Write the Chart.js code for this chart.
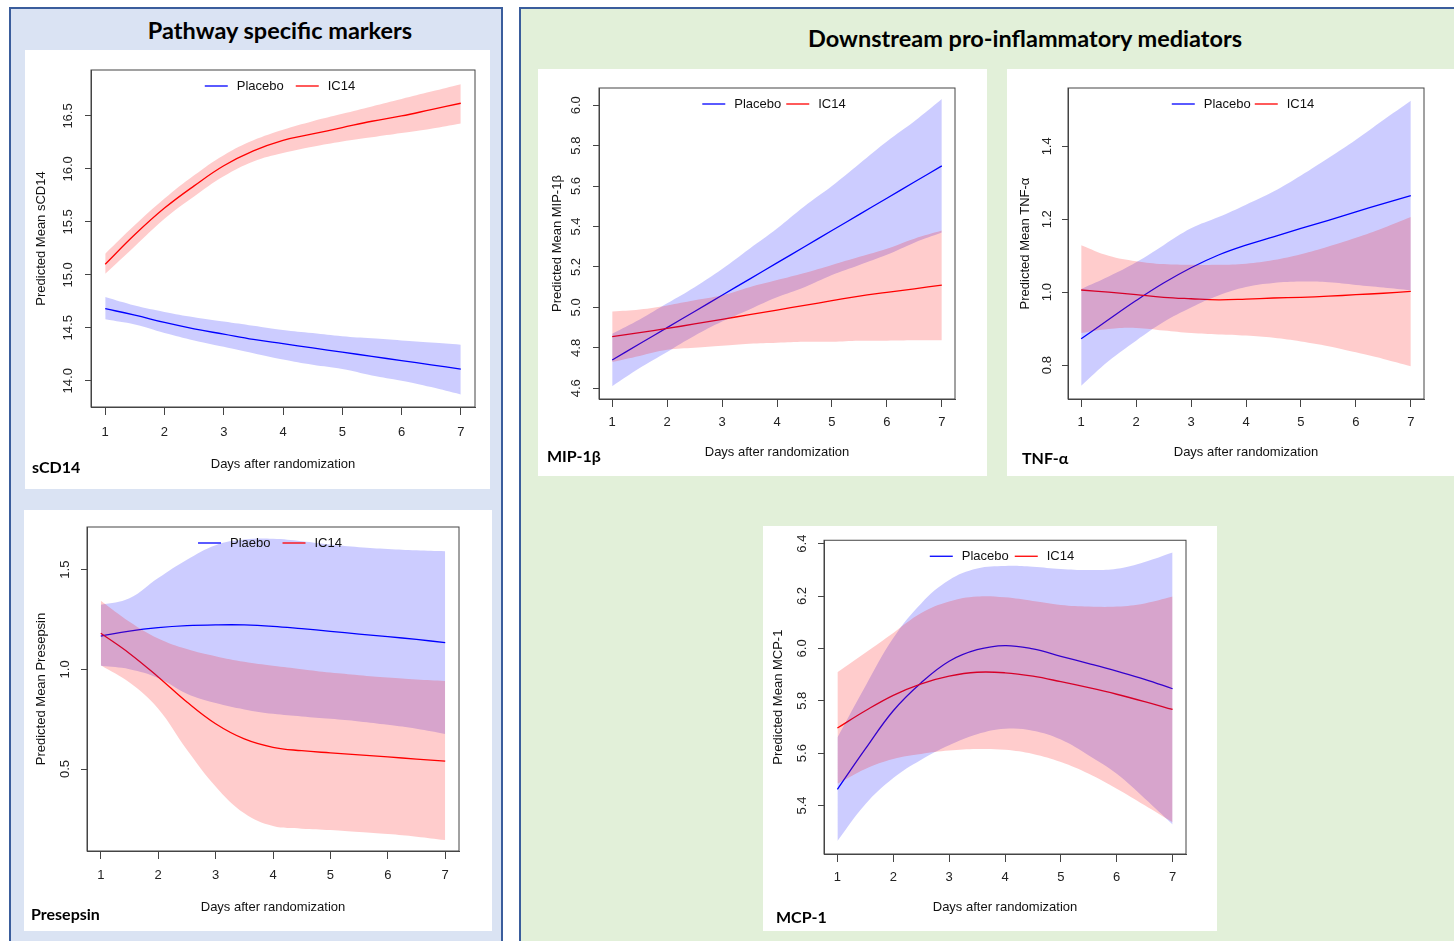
<!DOCTYPE html>
<html>
<head>
<meta charset="utf-8">
<script src="https://cdn.jsdelivr.net/npm/chart.js@4.4.1/dist/chart.umd.min.js"></script>
<style>
  body { margin: 0; width: 1454px; height: 941px; overflow: hidden; background: #fff; position: relative; }
  .panel { position: absolute; box-sizing: border-box; border: 2px solid #3a5d9c; }
  #left { left: 9px; top: 7px; width: 494px; height: 960px; background: #dae3f3; }
  #right { left: 519px; top: 7px; width: 980px; height: 960px; background: #e2f0d9; }
  .head { position: absolute; font: bold 23.5px Lato, sans-serif; color: #000; white-space: nowrap; transform: translate(-50%, -50%); }
  .box { position: absolute; background: #fff; }
  .tag { position: absolute; font: bold 16px Lato, sans-serif; color: #000; white-space: nowrap; transform: translateY(-50%); }
</style>
</head>
<body>
<div class="panel" id="left"></div>
<div class="panel" id="right"></div>
<div class="head" style="left:280px; top:30px">Pathway specific markers</div>
<div class="head" style="left:1025px; top:38px">Downstream pro-inflammatory mediators</div>

<div class="box" style="left:25px; top:50px; width:465px; height:439px"><canvas id="cSCD14" width="465" height="439"></canvas></div>
<div class="box" style="left:538px; top:69px; width:449px; height:407px"><canvas id="cMIP" width="449" height="407"></canvas></div>
<div class="box" style="left:1007px; top:69px; width:447px; height:407px"><canvas id="cTNF" width="447" height="407"></canvas></div>
<div class="box" style="left:24px; top:510px; width:468px; height:421px"><canvas id="cPRE" width="468" height="421"></canvas></div>
<div class="box" style="left:763px; top:526px; width:454px; height:405px"><canvas id="cMCP" width="454" height="405"></canvas></div>

<div class="tag" style="left:32px; top:466px">sCD14</div>
<div class="tag" style="left:547px; top:455px">MIP-1β</div>
<div class="tag" style="left:1022px; top:457px">TNF-α</div>
<div class="tag" style="left:31px; top:913px">Presepsin</div>
<div class="tag" style="left:776px; top:916px">MCP-1</div>

<script>
// days after randomization (half-day steps)
const days = [1, 1.5, 2, 2.5, 3, 3.5, 4, 4.5, 5, 5.5, 6, 6.5, 7];
const dayTicks = [1, 2, 3, 4, 5, 6, 7];
const groupNames = ['Placebo', 'IC14'];
const presepsinNames = ['Plaebo', 'IC14'];
const xTitle = 'Days after randomization';

// sCD14
const scd14Ticks = [14.0, 14.5, 15.0, 15.5, 16.0, 16.5];
const scd14Placebo = [14.68, 14.62, 14.55, 14.49, 14.44, 14.39, 14.35, 14.31, 14.27, 14.23, 14.19, 14.15, 14.11];
const scd14PlaceboHi = [14.79, 14.71, 14.65, 14.60, 14.56, 14.52, 14.48, 14.45, 14.42, 14.40, 14.38, 14.36, 14.34];
const scd14PlaceboLo = [14.58, 14.53, 14.45, 14.38, 14.32, 14.26, 14.20, 14.15, 14.11, 14.05, 14.00, 13.94, 13.87];
const scd14Ic14 = [15.10, 15.38, 15.63, 15.84, 16.03, 16.17, 16.27, 16.33, 16.39, 16.45, 16.50, 16.56, 16.62];
const scd14Ic14Hi = [15.20, 15.47, 15.72, 15.94, 16.13, 16.27, 16.37, 16.45, 16.52, 16.59, 16.66, 16.73, 16.80];
const scd14Ic14Lo = [15.01, 15.27, 15.53, 15.74, 15.93, 16.07, 16.15, 16.21, 16.26, 16.30, 16.34, 16.38, 16.43];

// MIP-1β
const mipTicks = [4.6, 4.8, 5.0, 5.2, 5.4, 5.6, 5.8, 6.0];
const mipPlacebo = [4.74, 4.82, 4.90, 4.98, 5.06, 5.14, 5.22, 5.30, 5.38, 5.46, 5.54, 5.62, 5.70];
const mipPlaceboHi = [4.87, 4.94, 5.02, 5.10, 5.19, 5.29, 5.39, 5.50, 5.60, 5.71, 5.82, 5.92, 6.03];
const mipPlaceboLo = [4.61, 4.70, 4.78, 4.86, 4.93, 4.99, 5.05, 5.10, 5.16, 5.21, 5.26, 5.32, 5.37];
const mipIc14 = [4.855, 4.875, 4.896, 4.918, 4.941, 4.964, 4.987, 5.010, 5.033, 5.056, 5.074, 5.092, 5.110];
const mipIc14Hi = [4.98, 4.99, 5.01, 5.035, 5.06, 5.10, 5.135, 5.17, 5.21, 5.25, 5.29, 5.34, 5.38];
const mipIc14Lo = [4.73, 4.76, 4.79, 4.80, 4.81, 4.82, 4.825, 4.83, 4.83, 4.835, 4.835, 4.837, 4.837];

// TNF-α
const tnfTicks = [0.8, 1.0, 1.2, 1.4];
const tnfPlacebo = [0.872, 0.925, 0.977, 1.025, 1.067, 1.102, 1.129, 1.152, 1.175, 1.197, 1.220, 1.243, 1.265];
const tnfPlaceboHi = [1.009, 1.043, 1.082, 1.129, 1.175, 1.206, 1.240, 1.276, 1.320, 1.368, 1.418, 1.472, 1.525];
const tnfPlaceboLo = [0.743, 0.811, 0.867, 0.918, 0.958, 0.991, 1.014, 1.025, 1.029, 1.027, 1.020, 1.013, 1.005];
const tnfIc14 = [1.006, 1.000, 0.993, 0.986, 0.982, 0.979, 0.981, 0.984, 0.986, 0.989, 0.993, 0.997, 1.002];
const tnfIc14Hi = [1.129, 1.100, 1.085, 1.077, 1.075, 1.075, 1.078, 1.088, 1.104, 1.125, 1.149, 1.176, 1.206];
const tnfIc14Lo = [0.888, 0.899, 0.902, 0.895, 0.888, 0.884, 0.881, 0.875, 0.865, 0.852, 0.835, 0.817, 0.797];

// Presepsin
const preTicks = [0.5, 1.0, 1.5];
const prePlacebo = [1.167, 1.192, 1.209, 1.219, 1.223, 1.223, 1.216, 1.204, 1.191, 1.177, 1.164, 1.150, 1.134];
const prePlaceboHi = [1.324, 1.357, 1.458, 1.550, 1.623, 1.651, 1.655, 1.643, 1.626, 1.613, 1.604, 1.597, 1.592];
const prePlaceboLo = [1.018, 1.001, 0.957, 0.878, 0.831, 0.799, 0.777, 0.764, 0.752, 0.739, 0.722, 0.702, 0.676];
const preIc14 = [1.181, 1.080, 0.962, 0.836, 0.727, 0.651, 0.609, 0.592, 0.581, 0.571, 0.561, 0.550, 0.540];
const preIc14Hi = [1.344, 1.239, 1.155, 1.102, 1.066, 1.038, 1.018, 1.001, 0.984, 0.971, 0.959, 0.949, 0.942];
const preIc14Lo = [1.021, 0.934, 0.803, 0.597, 0.413, 0.278, 0.214, 0.201, 0.194, 0.184, 0.174, 0.161, 0.144];

// MCP-1
const mcpTicks = [5.4, 5.6, 5.8, 6.0, 6.2, 6.4];
const mcpPlacebo = [5.462, 5.616, 5.762, 5.869, 5.951, 5.995, 6.011, 5.998, 5.970, 5.942, 5.913, 5.882, 5.846];
const mcpPlaceboHi = [5.660, 5.856, 6.040, 6.172, 6.261, 6.305, 6.315, 6.312, 6.303, 6.299, 6.304, 6.330, 6.366];
const mcpPlaceboLo = [5.265, 5.405, 5.505, 5.575, 5.630, 5.672, 5.693, 5.686, 5.652, 5.591, 5.521, 5.427, 5.328];
const mcpIc14 = [5.696, 5.762, 5.821, 5.865, 5.894, 5.909, 5.907, 5.894, 5.873, 5.850, 5.825, 5.797, 5.767];
const mcpIc14Hi = [5.909, 5.983, 6.059, 6.135, 6.179, 6.198, 6.195, 6.181, 6.166, 6.160, 6.160, 6.172, 6.198];
const mcpIc14Lo = [5.483, 5.540, 5.578, 5.597, 5.610, 5.616, 5.613, 5.597, 5.566, 5.521, 5.464, 5.401, 5.336];

const FONT = '"Liberation Sans", Arial, sans-serif';
const AXIS = '#444';
Chart.defaults.font.family = FONT;
Chart.defaults.font.size = 13;
Chart.defaults.color = '#222';

const pts = vals => vals.map((v, i) => ({ x: days[i], y: v }));

// R style legend inside the plot box + the box itself
const rLegend = {
  id: 'rLegend',
  afterDraw(chart, args, opts) {
    const { ctx, chartArea: a } = chart;
    ctx.save();
    ctx.font = '13px ' + FONT;
    ctx.textBaseline = 'middle';
    const lines = chart.data.datasets.filter(d => d.borderWidth > 0).reverse();
    const items = opts.labels.map((t, i) => ({ t, c: lines[i].borderColor, w: ctx.measureText(t).width }));
    const segLen = 23, gap = 9;
    const total = items.reduce((s, it) => s + segLen + gap + it.w, 0) + opts.itemGap * (items.length - 1);
    let x = (a.left + a.right) / 2 - 3 - total / 2;
    const y = a.top + 16;
    items.forEach(it => {
      ctx.strokeStyle = it.c;
      ctx.lineWidth = 1.3;
      ctx.beginPath();
      ctx.moveTo(x, y);
      ctx.lineTo(x + segLen, y);
      ctx.stroke();
      x += segLen + gap;
      ctx.fillStyle = '#111';
      ctx.fillText(it.t, x, y);
      x += it.w + opts.itemGap;
    });
    ctx.strokeStyle = AXIS;
    ctx.lineWidth = 1;
    ctx.strokeRect(a.left, a.top, a.right - a.left, a.bottom - a.top);
    ctx.restore();
  }
};

const measure = document.createElement('canvas').getContext('2d');
measure.font = '13px ' + FONT;

function drawPanel(id, g, names, yTicks, yTitle, s) {
  const widest = Math.max(...yTicks.map(v => measure.measureText(v.toFixed(1)).width));
  const band = (vals, color, fill) => ({
    data: pts(vals), borderWidth: 0, pointRadius: 0, fill: fill,
    backgroundColor: color, tension: 0.4
  });
  const line = (label, vals, color) => ({
    label: label, data: pts(vals), borderColor: color, borderWidth: 1.3, pointRadius: 0,
    fill: false, tension: 0.4
  });
  // bands first in the list so they are painted last (over the lines, like the original)
  const datasets = [
    band(s.icHi, 'rgba(255,0,0,0.2)', 1),
    band(s.icLo, 'transparent', false),
    band(s.plHi, 'rgba(0,0,255,0.2)', 3),
    band(s.plLo, 'transparent', false),
    line(names[1], s.ic, '#ff0000'),
    line(names[0], s.pl, '#0000ff'),
  ];
  return new Chart(document.getElementById(id), {
    type: 'line',
    data: { datasets },
    options: {
      responsive: false,
      animation: false,
      events: [],
      layout: { padding: { left: 0, top: g.top, right: g.right, bottom: 0 } },
      plugins: {
        legend: { display: false },
        tooltip: { enabled: false },
        rLegend: { labels: names, itemGap: g.gap },
      },
      scales: {
        x: {
          type: 'linear', min: 0.76, max: 7.24,
          afterFit: sc => { sc.height = g.bottom; },
          afterBuildTicks: sc => { sc.ticks = dayTicks.map(v => ({ value: v })); },
          ticks: { padding: g.xLab - 8 - 7.8, color: '#222', callback: v => String(v) },
          grid: { drawOnChartArea: false, tickLength: 8, color: AXIS },
          border: { color: AXIS },
          title: { display: true, text: xTitle, color: '#111', padding: { top: 0, bottom: g.xTitle - 7.8 } },
        },
        y: {
          type: 'linear', min: g.yMin, max: g.yMax,
          afterFit: sc => { sc.width = g.left; },
          afterBuildTicks: sc => { sc.ticks = yTicks.map(v => ({ value: v })); },
          ticks: {
            minRotation: 90, maxRotation: 90, crossAlign: 'center',
            padding: g.yLab - 6 - widest / 2, color: '#222',
            callback: v => v.toFixed(1)
          },
          grid: { drawOnChartArea: false, tickLength: 6, color: AXIS },
          border: { color: AXIS },
          title: { display: true, text: yTitle, color: '#111', padding: { top: g.yTitle - 7.8, bottom: 0 } },
        },
      },
    },
    plugins: [rLegend],
  });
}

drawPanel('cSCD14',
  { top: 20, right: 15, left: 66, bottom: 82, yMin: 13.752, yMax: 16.934, yLab: 23, xLab: 25, yTitle: 16.5, xTitle: 25, gap: 12 },
  groupNames, scd14Ticks, 'Predicted Mean sCD14',
  { pl: scd14Placebo, plHi: scd14PlaceboHi, plLo: scd14PlaceboLo, ic: scd14Ic14, icHi: scd14Ic14Hi, icLo: scd14Ic14Lo });

drawPanel('cMIP',
  { top: 19, right: 32, left: 61, bottom: 77, yMin: 4.547, yMax: 6.085, yLab: 22.3, xLab: 23.3, yTitle: 19, xTitle: 23.3, gap: 5 },
  groupNames, mipTicks, 'Predicted Mean MIP-1β',
  { pl: mipPlacebo, plHi: mipPlaceboHi, plLo: mipPlaceboLo, ic: mipIc14, icHi: mipIc14Hi, icLo: mipIc14Lo });

drawPanel('cTNF',
  { top: 19, right: 30, left: 61, bottom: 77, yMin: 0.707, yMax: 1.560, yLab: 21, xLab: 23.3, yTitle: 18, xTitle: 23.7, gap: 4 },
  groupNames, tnfTicks, 'Predicted Mean TNF-α',
  { pl: tnfPlacebo, plHi: tnfPlaceboHi, plLo: tnfPlaceboLo, ic: tnfIc14, icHi: tnfIc14Hi, icLo: tnfIc14Lo });

drawPanel('cPRE',
  { top: 17, right: 33, left: 63, bottom: 80, yMin: 0.089, yMax: 1.714, yLab: 21.5, xLab: 24.7, yTitle: 17.7, xTitle: 23.7, gap: 12 },
  presepsinNames, preTicks, 'Predicted Mean Presepsin',
  { pl: prePlacebo, plHi: prePlaceboHi, plLo: prePlaceboLo, ic: preIc14, icHi: preIc14Hi, icLo: preIc14Lo });

drawPanel('cMCP',
  { top: 12, right: 31, left: 61, bottom: 77, yMin: 5.215, yMax: 6.413, yLab: 21.5, xLab: 23.7, yTitle: 15.3, xTitle: 23.3, gap: 6 },
  groupNames, mcpTicks, 'Predicted Mean MCP-1',
  { pl: mcpPlacebo, plHi: mcpPlaceboHi, plLo: mcpPlaceboLo, ic: mcpIc14, icHi: mcpIc14Hi, icLo: mcpIc14Lo });
</script>
</body>
</html>
